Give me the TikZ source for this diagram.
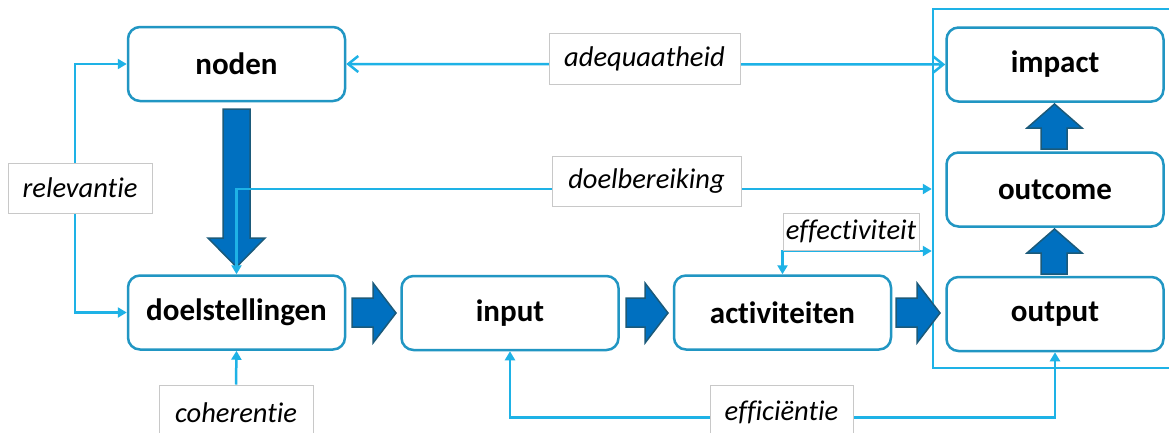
\documentclass[tikz,border=0pt]{standalone}
\usepackage{fontspec}
\setmainfont{Carlito}[Ligatures=NoCommon]
\usetikzlibrary{arrows.meta,calc}
\definecolor{conncol}{HTML}{1EB2E6}
\definecolor{boxcol}{HTML}{2196C3}
\definecolor{arrfill}{HTML}{0070C0}
\definecolor{arrline}{HTML}{1B5A7A}
\definecolor{lblcol}{HTML}{C8C8C8}
\tikzset{
  stage/.style={draw=boxcol, line width=2.5pt, rounded corners=12pt, fill=white,
    minimum width=217pt, minimum height=74pt, inner sep=0pt,
    font=\fontsize{31}{36}\selectfont\bfseries},
  lbl/.style={draw=lblcol, line width=1pt, fill=white, inner sep=0pt,
    font=\fontsize{28.5}{34}\selectfont\itshape},
  conn/.style={draw=conncol, line width=2.5pt},
  ctri/.tip={Triangle[length=9pt,width=10pt]},
  cbarb/.tip={Straight Barb[length=10pt,width=16pt,line width=2.5pt]},
  bigarr/.style={fill=arrfill, draw=arrline, line width=1.5pt, line join=miter},
  frame/.style={draw=conncol, line width=2.5pt, inner sep=0pt},
}
\begin{document}
\begin{tikzpicture}[x=1pt,y=-1pt]
\clip (0,0) rectangle (1169,432);
\fill[white] (0,0) rectangle (1169,432);
% outer frame
\node[frame, minimum width=247pt, minimum height=359pt] (outer) at (1056.5,188.5) {};
% block arrows
\draw[bigarr] (352,298) -- (373,298) -- (373,283) -- (396,313) -- (373,343) -- (373,327) -- (352,327) -- cycle;
\draw[bigarr] (626,298) -- (645,298) -- (645,283) -- (668,313) -- (645,343) -- (645,327) -- (626,327) -- cycle;
\draw[bigarr] (896,298) -- (917,298) -- (917,283) -- (940,313) -- (917,343) -- (917,327) -- (896,327) -- cycle;
\draw[bigarr] (223,109) -- (250,109) -- (250,238) -- (265,238) -- (236.5,267) -- (208,238) -- (223,238) -- cycle;
\draw[bigarr] (1041,274) -- (1041,253) -- (1027,253) -- (1054.5,229) -- (1082,253) -- (1067,253) -- (1067,274) -- cycle;
\draw[bigarr] (1041,149) -- (1041,128) -- (1027,128) -- (1054.5,104) -- (1082,128) -- (1067,128) -- (1067,149) -- cycle;
% stages
\node[stage] (noden) at (236.5,64) {noden};
\node[stage] (doel) at (236.5,312.5) {doelstellingen};
\node[stage] (input) at (510,313) {input};
\node[stage] (act) at (782.5,312.5) {activiteiten};
\node[stage] (output) at (1055,314) {output};
\node[stage] (outcome) at (1055,189.5) {outcome};
\node[stage] (impact) at (1055,64.5) {impact};
% connector end points
\coordinate (dbend) at (outer.west |- 0,189);
\coordinate (efend) at (outer.west |- 0,251);
% connectors
\draw[conn, ctri-ctri] (doel.west) -- ++(-52,0) |- (noden.west);
\draw[conn, cbarb-cbarb] (noden.east) -- (impact.west);
\draw[conn, ctri-ctri] (doel.north) |- (dbend);
\draw[conn, ctri-ctri] (act.north) |- (efend);
\draw[conn, ctri-ctri] (input.south) -- ++(0,66) -| (output.south);
% labels
\node[lbl, minimum width=144pt, minimum height=50pt] (rel) at (80,188) {relevantie};
\node[lbl, minimum width=191pt, minimum height=51pt] (adq) at (644.5,58.5) {adequaatheid};
\node[lbl, minimum width=189pt, minimum height=50pt] (dbr) at (646.5,181) {doelbereiking};
\node[lbl, minimum width=136pt, minimum height=37pt] (eff) at (851,231.5) {effectiviteit};
\node[lbl, minimum width=154pt, minimum height=55pt] (coh) at (236,412.5) {coherentie};
\node[lbl, minimum width=143pt, minimum height=55pt] (efc) at (781.5,412.5) {efficiëntie};
\draw[conn, -ctri] (coh.north) -- (doel.south);
\end{tikzpicture}
\end{document}
